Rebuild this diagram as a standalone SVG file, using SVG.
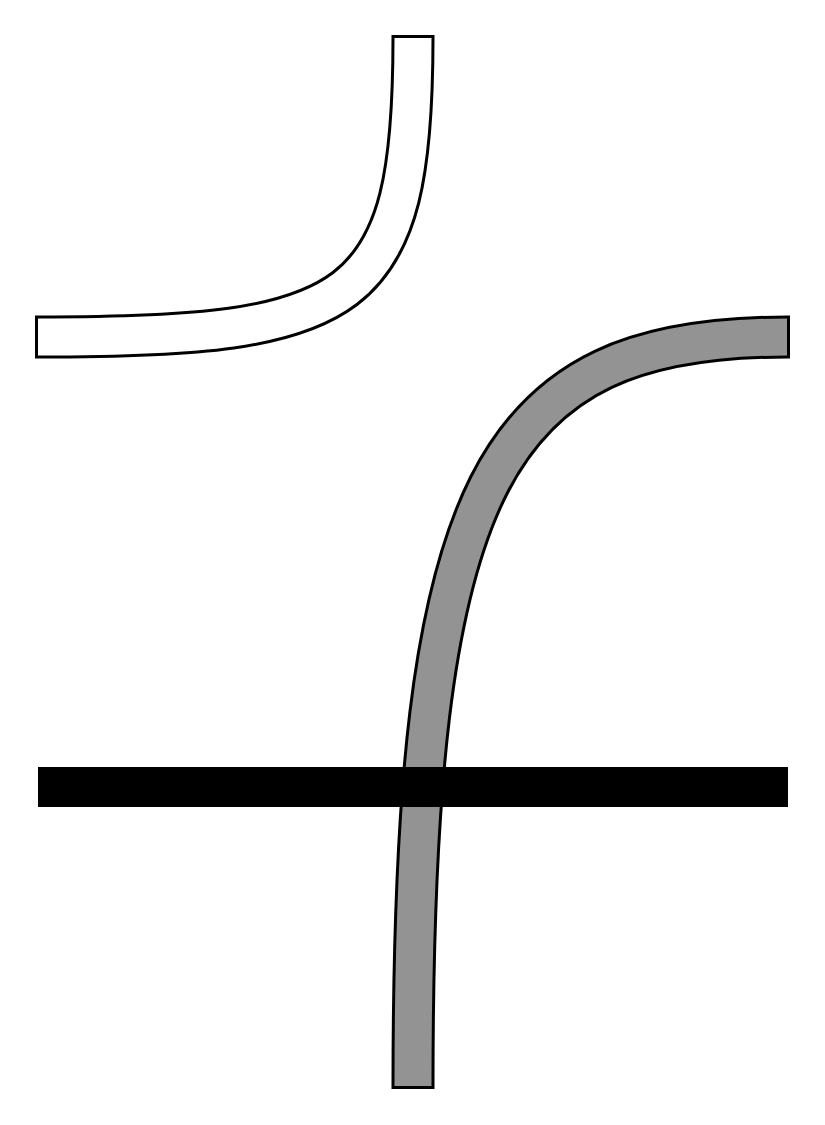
<svg xmlns="http://www.w3.org/2000/svg" width="825" height="1125" viewBox="0 0 825 1125">
<style>
.outline{fill:none;stroke:#000;stroke-width:43;stroke-linecap:butt;stroke-linejoin:miter}
.white{fill:none;stroke:#fff;stroke-width:37;stroke-linecap:butt}
.gray{fill:none;stroke:#939393;stroke-width:37;stroke-linecap:butt}
</style>
<rect width="825" height="1125" fill="#fff"/>
<g id="white-band">
<path class="outline" d="M413,35 L413,38 C413,307 357,337 38,337 L35,337"/>
<path class="white" d="M413,38 C413,307 357,337 38,337"/>
</g>
<g id="gray-band">
<path class="outline" d="M413,1089 L413,1086 C413,484 490,337 787,337 L790,337"/>
<path class="gray" d="M413,1086 C413,484 490,337 787,337"/>
</g>
<g id="black-bar">
<rect x="38" y="767" width="750" height="40" fill="#000"/>
</g>
</svg>
